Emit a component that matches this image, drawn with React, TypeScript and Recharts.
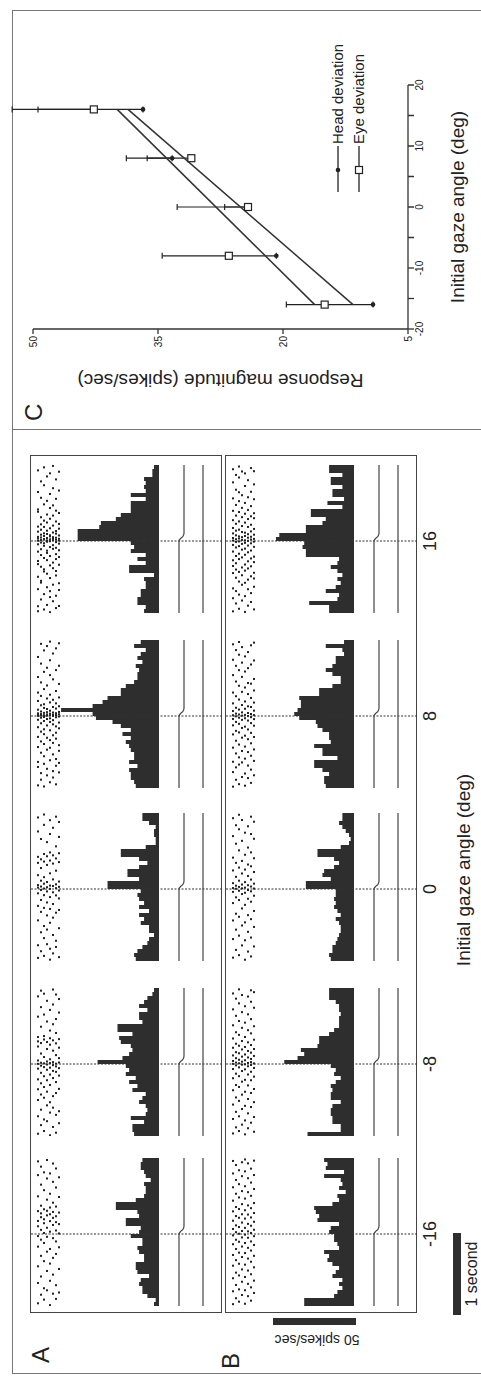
import React from 'react';
import {
  ComposedChart, Bar, Line, Scatter, XAxis, YAxis, ReferenceLine, ErrorBar, Legend, Label,
} from 'recharts';

const FONT = '"Liberation Sans", Arial, Helvetica, sans-serif';
const INK = '#222';
const BAR_FILL = '#2e2e2e';

// ---------- panels A / B : rasters, histograms, eye traces ----------
const gazeLabels = ['-16', '-8', '0', '8', '16'];

// 50 ms bins, aligned on saccade onset (0)
const binTimes = [
  -900, -850, -800, -750, -700, -650, -600, -550, -500, -450, -400, -350, -300, -250, -200, -150, -100, -50,
  0, 50, 100, 150, 200, 250, 300, 350, 400, 450, 500, 550, 600, 650, 700, 750, 800, 850, 900,
];

// firing rate (spikes/sec) per bin, panel A (head deviation)
const histAm16 = [3, 2, 7, 10, 10, 12, 11, 6, 13, 14, 14, 9, 9, 12, 13, 10, 10, 17, 12, 11, 20, 20, 12, 13, 26, 26, 14, 9, 8, 8, 9, 5, 8, 9, 11, 11, 10];
const histAm8 = [15, 16, 16, 9, 17, 8, 7, 8, 12, 10, 8, 16, 13, 18, 14, 20, 18, 20, 37, 22, 18, 16, 17, 23, 24, 16, 25, 25, 10, 12, 12, 7, 12, 9, 7, 4, 3];
const histA0 = [14, 15, 13, 10, 7, 6, 3, 6, 6, 11, 9, 12, 6, 12, 9, 12, 13, 11, 31, 31, 12, 19, 19, 12, 7, 12, 23, 23, 8, 2, 2, 3, 3, 2, 6, 10, 10];
const histA8 = [14, 15, 17, 17, 18, 13, 18, 15, 15, 17, 18, 20, 17, 22, 17, 23, 28, 38, 40, 59, 40, 34, 31, 23, 23, 20, 15, 13, 13, 12, 14, 10, 13, 11, 8, 15, 11];
const histA16 = [9, 8, 13, 13, 11, 11, 8, 8, 9, 3, 18, 18, 8, 13, 8, 17, 15, 17, 49, 49, 49, 36, 35, 26, 23, 17, 17, 17, 8, 17, 8, 9, 8, 9, 4, 4, 3];

// panel B (eye deviation)
const histBm16 = [30, 30, 12, 10, 7, 9, 7, 13, 11, 9, 13, 16, 15, 18, 9, 10, 12, 12, 15, 14, 9, 22, 21, 23, 24, 13, 9, 10, 5, 9, 7, 8, 18, 6, 17, 16, 18];
const histBm8 = [28, 8, 8, 13, 13, 14, 14, 13, 8, 14, 14, 13, 14, 11, 8, 12, 11, 14, 42, 34, 30, 32, 22, 21, 21, 15, 12, 9, 9, 9, 8, 9, 9, 11, 15, 15, 15];
const histB0 = [14, 15, 13, 13, 11, 10, 9, 8, 8, 9, 11, 8, 10, 12, 11, 12, 11, 11, 29, 29, 14, 19, 18, 12, 9, 12, 22, 22, 8, 3, 2, 3, 5, 7, 9, 7, 7];
const histB8 = [17, 18, 18, 15, 19, 24, 24, 10, 19, 19, 24, 14, 15, 15, 19, 22, 23, 33, 36, 34, 32, 32, 33, 21, 21, 13, 8, 8, 13, 17, 13, 11, 11, 6, 7, 17, 6];
const histB16 = [15, 15, 27, 10, 9, 17, 11, 8, 10, 7, 10, 14, 10, 9, 29, 29, 31, 30, 47, 45, 29, 29, 19, 17, 26, 26, 7, 16, 6, 13, 13, 7, 14, 14, 7, 15, 15];

// spike times (ms from saccade onset), one row per trial
const rasterAm16 = [
  [-866, -612, -404, -158, -26, 97, 163, 286, 471, 736, 908],
  [-759, -531, -273, -71, 52, 210, 258, 354, 617, 842],
  [-820, -678, -339, -112, 13, 135, 184, 309, 548, 771],
  [-704, -462, -221, -35, 78, 233, 290, 429, 694, 925],
  [-889, -585, -370, -187, 29, 161, 247, 331, 503, 757],
  [-746, -508, -298, -52, 113, 202, 276, 391, 652, 881],
  [-811, -640, -249, -93, 44, 148, 222, 343, 581, 819],
  [-731, -437, -166, 7, 124, 268, 462, 709],
];
const rasterAm8 = [
  [-872, -653, -450, -316, -192, -58, 2, 44, 219, 283, 337, 592, 845],
  [-764, -571, -381, -241, -110, -21, 15, 131, 262, 466, 711, 917],
  [-838, -693, -422, -288, -153, -39, 8, 87, 306, 349, 618, 879],
  [-715, -517, -346, -203, -72, -6, 31, 188, 275, 531, 790],
  [-891, -607, -478, -262, -132, -46, 11, 59, 241, 322, 418, 676],
  [-787, -546, -402, -176, -86, -14, 23, 167, 296, 497, 744, 931],
  [-859, -636, -363, -226, -98, -30, 4, 111, 258, 388, 562, 868],
  [-740, -590, -311, -145, -52, 19, 73, 204, 311, 643, 812],
];
const rasterA0 = [
  [-861, -703, -392, -211, -54, 18, 49, 173, 327, 402, 719, 894],
  [-778, -541, -286, -137, -12, 31, 104, 262, 371, 625],
  [-836, -614, -463, -236, -77, 6, 66, 148, 343, 438, 802, 931],
  [-690, -507, -330, -168, -30, 22, 87, 301, 409, 586],
  [-883, -747, -422, -249, -101, 2, 43, 196, 356, 457, 688, 860],
  [-805, -575, -358, -188, -41, 37, 120, 318, 421, 765],
  [-724, -647, -296, -80, 11, 58, 229, 382, 533, 904],
  [-852, -490, -262, -118, -19, 27, 93, 336, 447, 651, 838],
];
const rasterA8 = [
  [-867, -637, -574, -388, -261, -140, -47, 2, 14, 33, 79, 188, 293, 487, 738],
  [-796, -714, -459, -318, -195, -91, -21, 7, 24, 56, 134, 251, 420, 655, 902],
  [-881, -598, -503, -350, -227, -166, -63, -12, 10, 39, 101, 147, 336, 552, 820],
  [-742, -660, -421, -272, -118, -38, 4, 19, 48, 87, 219, 382, 603, 874],
  [-828, -553, -397, -302, -179, -74, -29, 9, 29, 66, 170, 266, 511, 697, 930],
  [-769, -689, -480, -336, -241, -104, -52, 1, 17, 43, 112, 203, 458, 781],
  [-854, -622, -538, -283, -209, -130, -16, 12, 35, 93, 158, 313, 574, 846],
  [-705, -586, -435, -365, -154, -82, -6, 22, 51, 122, 232, 401, 628, 909],
];
const rasterA16 = [
  [-878, -815, -602, -447, -289, -250, -133, -41, 4, 31, 52, 117, 180, 366, 394, 612, 883],
  [-731, -520, -498, -322, -176, -102, -19, 13, 44, 79, 141, 208, 297, 540, 745],
  [-856, -664, -381, -354, -212, -60, -28, 18, 25, 63, 96, 176, 255, 458, 697, 921],
  [-799, -578, -409, -239, -149, -121, -9, 8, 38, 88, 129, 231, 331, 502, 807],
  [-890, -701, -627, -463, -305, -188, -76, -3, 21, 57, 71, 159, 278, 412, 588, 846],
  [-753, -546, -340, -270, -98, -52, 11, 34, 48, 106, 193, 318, 445, 660, 939],
  [-838, -684, -431, -375, -226, -164, -85, -14, 16, 41, 92, 124, 244, 379, 527, 770],
  [-812, -612, -528, -297, -201, -116, -33, 6, 28, 69, 154, 213, 350, 631, 866],
];
const rasterBm16 = [
  [-877, -716, -553, -396, -262, -128, -17, 63, 166, 283, 417, 584, 757, 913],
  [-803, -637, -483, -327, -187, -72, 23, 108, 224, 337, 503, 676, 862],
  [-846, -692, -518, -372, -233, -97, 3, 87, 203, 312, 457, 623, 797],
  [-763, -597, -443, -288, -157, -43, 38, 143, 247, 373, 536, 723, 897],
  [-872, -703, -537, -383, -238, -113, -8, 77, 193, 297, 443, 597, 783, 932],
  [-777, -623, -457, -307, -173, -47, 33, 127, 243, 357, 523, 697, 883],
  [-833, -667, -503, -347, -207, -93, 13, 103, 207, 323, 477, 643, 817],
  [-737, -583, -417, -273, -137, -27, 53, 153, 263, 387, 563, 737, 917],
];
const rasterBm8 = [
  [-868, -687, -507, -328, -178, -63, 2, 38, 107, 203, 319, 484, 683, 882],
  [-792, -598, -418, -263, -121, -17, 18, 73, 148, 253, 397, 602, 817],
  [-838, -654, -461, -287, -152, -42, 9, 53, 134, 228, 364, 538, 758, 933],
  [-758, -563, -383, -221, -88, -8, 29, 92, 182, 287, 452, 648, 862],
  [-879, -705, -523, -347, -198, -67, -4, 47, 119, 213, 338, 517, 722],
  [-803, -617, -437, -268, -131, -28, 13, 82, 163, 271, 423, 621, 843],
  [-734, -538, -362, -203, -97, -12, 24, 63, 142, 237, 383, 561, 778, 921],
  [-847, -663, -477, -312, -158, -49, 7, 101, 187, 304, 472, 703, 898],
];
const rasterB0 = [
  [-858, -626, -393, -176, -36, 12, 73, 232, 392, 661, 885],
  [-761, -508, -309, -104, 3, 41, 152, 327, 566, 797],
  [-827, -583, -347, -138, -22, 26, 104, 268, 483, 747, 928],
  [-705, -456, -243, -63, 8, 56, 194, 351, 602, 863],
  [-884, -641, -417, -198, -47, 17, 86, 243, 428, 704],
  [-782, -535, -327, -122, -13, 47, 163, 306, 518, 784],
  [-843, -607, -377, -159, -29, 31, 118, 284, 458, 687, 904],
  [-718, -474, -274, -84, 6, 67, 212, 384, 628, 841],
];
const rasterB8 = [
  [-883, -701, -572, -396, -230, -117, -37, 9, 62, 158, 293, 511, 703, 896],
  [-797, -642, -468, -309, -186, -74, -4, 30, 103, 247, 431, 627, 824],
  [-852, -607, -517, -357, -205, -98, -21, 19, 81, 206, 378, 573, 766, 925],
  [-763, -580, -437, -271, -149, -48, 4, 45, 137, 302, 489, 667, 861],
  [-871, -719, -533, -382, -246, -133, -28, 14, 90, 182, 356, 556, 745],
  [-776, -619, -451, -290, -168, -57, -1, 38, 121, 274, 412, 598, 799],
  [-836, -670, -497, -341, -211, -89, -14, 25, 113, 226, 404, 644, 884],
  [-741, -561, -418, -262, -121, -39, 11, 67, 168, 319, 463, 694, 917],
];
const rasterB16 = [
  [-879, -715, -592, -401, -312, -241, -132, -49, 6, 38, 95, 163, 260, 377, 533, 733, 897],
  [-781, -626, -459, -357, -278, -187, -81, -12, 22, 71, 129, 215, 318, 451, 641, 826],
  [-847, -670, -507, -386, -226, -159, -64, -5, 31, 57, 142, 245, 362, 498, 609, 794, 931],
  [-744, -547, -428, -331, -205, -108, -36, 14, 48, 112, 187, 298, 414, 572, 869],
  [-886, -689, -522, -370, -294, -172, -95, -23, 9, 63, 104, 230, 341, 476, 688, 845],
  [-808, -603, -483, -343, -254, -141, -57, 2, 41, 85, 176, 274, 389, 547, 760],
  [-762, -651, -441, -316, -218, -119, -29, 18, 53, 120, 203, 309, 436, 615, 912],
  [-855, -572, -468, -397, -264, -196, -73, -8, 26, 79, 151, 285, 347, 522, 708, 872],
];

// eye position traces (deg, relative): horizontal steps with the saccade, vertical stays flat
const traceTimes = [-900, 0, 30, 60, 100, 950];
const eyeHPos = [0, 0, -0.6, -1.6, -2, -2];
const eyeVPos = [0, 0, 0, 0, 0, 0];

// ---------- panel C : response magnitude vs initial gaze ----------
const gazeC = [-16, -8, 0, 8, 16];
const headMag = [9.2, 20.8, 24, 33.3, 36.8];
const headErr = [5.8, 5.7, 3, 3, 12.6];
const eyeMag = [15, 26.5, 24.2, 31, 42.7];
const eyeErr = [4.6, 8, 8.5, 7.8, 9.8];
const fitGaze = [-16, 16];
const headFit = [11.6, 38.6];
const eyeFit = [16.2, 39.9];
const gazeTicks = [-20, -15, -10, -5, 0, 5, 10, 15, 20];
const magTicks = [5, 20, 35, 50];

// ---------- layout (landscape figure, rotated onto the page) ----------
const eventX = [142, 312, 487, 660, 835];
const CELL_W = 148;
const CELL_H = 192;
const PRE_PX = 72;
const RATE_BASE = 129; // px from cell top to histogram baseline
const RATE_PX = 83 / 50; // 50 spikes/sec scale bar = 83 px
const rateDomain = [-(CELL_H - RATE_BASE) / RATE_PX, RATE_BASE / RATE_PX];
const trialDomain = [1 - 8 / 3, 1 - 8 / 3 + CELL_H / 3];
const eyeHDomain = [149 / 2.5 - CELL_H / 2.5, 149 / 2.5];
const eyeVDomain = [173 / 2.5 - CELL_H / 2.5, 173 / 2.5];

const eyeHTrace = traceTimes.map((t, i) => ({ t, v: eyeHPos[i] }));
const eyeVTrace = traceTimes.map((t, i) => ({ t, v: eyeVPos[i] }));

const SpikeDot = (p: any) => (
  <rect x={p.cx - 1} y={p.cy - 1} width={2} height={2} fill={INK} />
);

function RasterCell({ hist, raster, left, top }: { hist: number[]; raster: number[][]; left: number; top: number }) {
  const histData = binTimes.map((t, i) => ({ t, v: hist[i] }));
  const spikes = raster.flatMap((row, i) => row.map((t) => ({ t, trial: i + 1 })));
  return (
    <div style={{ position: 'absolute', left, top }}>
      <ComposedChart
        width={CELL_W}
        height={CELL_H}
        data={histData}
        margin={{ top: 0, right: 0, bottom: 0, left: 0 }}
        barCategoryGap={0}
        barGap={0}
      >
        <XAxis xAxisId="bin" dataKey="t" type="category" hide />
        <XAxis xAxisId="t" dataKey="t" type="number" domain={[-900, 950]} allowDataOverflow hide />
        <YAxis yAxisId="rate" type="number" domain={rateDomain} allowDataOverflow hide />
        <YAxis yAxisId="trial" dataKey="trial" type="number" domain={trialDomain} reversed allowDataOverflow hide />
        <YAxis yAxisId="eyeH" type="number" domain={eyeHDomain} allowDataOverflow hide />
        <YAxis yAxisId="eyeV" type="number" domain={eyeVDomain} allowDataOverflow hide />
        <ReferenceLine xAxisId="t" yAxisId="rate" x={0} stroke="#333" strokeDasharray="2 1.5" strokeWidth={1} />
        <Bar xAxisId="bin" yAxisId="rate" dataKey="v" fill={BAR_FILL} isAnimationActive={false} />
        <Scatter xAxisId="t" yAxisId="trial" data={spikes} dataKey="trial" shape={SpikeDot} isAnimationActive={false} />
        <Line xAxisId="t" yAxisId="eyeH" data={eyeHTrace} dataKey="v" type="monotone" stroke="#444" strokeWidth={1.2} dot={false} isAnimationActive={false} />
        <Line xAxisId="t" yAxisId="eyeV" data={eyeVTrace} dataKey="v" type="linear" stroke="#444" strokeWidth={1.2} dot={false} isAnimationActive={false} />
      </ComposedChart>
    </div>
  );
}

const rowA = [
  { hist: histAm16, raster: rasterAm16 },
  { hist: histAm8, raster: rasterAm8 },
  { hist: histA0, raster: rasterA0 },
  { hist: histA8, raster: rasterA8 },
  { hist: histA16, raster: rasterA16 },
];
const rowB = [
  { hist: histBm16, raster: rasterBm16 },
  { hist: histBm8, raster: rasterBm8 },
  { hist: histB0, raster: rasterB0 },
  { hist: histB8, raster: rasterB8 },
  { hist: histB16, raster: rasterB16 },
];

const headPts = gazeC.map((g, i) => ({ g, m: headMag[i], e: [0, headErr[i]] }));
const eyePts = gazeC.map((g, i) => ({ g, m: eyeMag[i], e: [0, eyeErr[i]] }));
const headLine = fitGaze.map((g, i) => ({ g, m: headFit[i] }));
const eyeLine = fitGaze.map((g, i) => ({ g, m: eyeFit[i] }));

const HeadDot = (p: any) => <circle cx={p.cx} cy={p.cy} r={2.3} fill={INK} />;
const EyeSquare = (p: any) => (
  <rect x={p.cx - 3.5} y={p.cy - 3.5} width={7} height={7} fill="#fff" stroke={INK} strokeWidth={1.2} />
);

const legendItems = [
  { name: 'Head deviation', marker: 'dot' },
  { name: 'Eye deviation', marker: 'square' },
];

const renderLegend = () => (
  <div style={{ fontFamily: FONT, fontSize: 15, color: INK }}>
    {legendItems.map((item) => (
      <div key={item.name} style={{ display: 'flex', alignItems: 'center', height: 21 }}>
        <svg width={46} height={12}>
          <line x1={0} y1={6} x2={46} y2={6} stroke={INK} strokeWidth={1.3} />
          {item.marker === 'dot' ? (
            <circle cx={22} cy={6} r={2.3} fill={INK} />
          ) : (
            <rect x={18.5} y={2.5} width={7} height={7} fill="#fff" stroke={INK} strokeWidth={1.2} />
          )}
        </svg>
        <span style={{ marginLeft: 2, whiteSpace: 'nowrap' }}>{item.name}</span>
      </div>
    ))}
  </div>
);

const tickStyle = { fontSize: 10, fill: INK, fontFamily: FONT };

function PanelC() {
  return (
    <>
      {/* error bars layer (domain reaches past 50 so the top bar is not cut) */}
      <div style={{ position: 'absolute', left: 970, top: 0 }}>
        <ComposedChart width={340} height={418} margin={{ top: 8, right: 19, bottom: 10, left: 77 }}>
          <XAxis dataKey="g" type="number" domain={[-20, 20]} allowDataOverflow hide />
          <YAxis type="number" domain={[5, 53]} allowDataOverflow hide />
          <Scatter data={headPts} dataKey="m" shape={() => <g />} isAnimationActive={false}>
            <ErrorBar dataKey="e" direction="y" width={3} stroke={INK} strokeWidth={1.2} />
          </Scatter>
          <Scatter data={eyePts} dataKey="m" shape={() => <g />} isAnimationActive={false}>
            <ErrorBar dataKey="e" direction="y" width={3} stroke={INK} strokeWidth={1.2} />
          </Scatter>
        </ComposedChart>
      </div>
      <div style={{ position: 'absolute', left: 970, top: 20 }}>
        <ComposedChart width={340} height={460} margin={{ top: 13, right: 19, bottom: 10, left: 0 }}>
          <XAxis
            dataKey="g"
            type="number"
            domain={[-20, 20]}
            ticks={gazeTicks}
            interval={0}
            tickFormatter={(v: number) => (v % 10 === 0 ? String(v) : '')}
            height={62}
            tickSize={6}
            tick={tickStyle}
            stroke="#333"
            strokeWidth={1.3}
          >
            <Label
              value="Initial gaze angle (deg)"
              position="insideBottom"
              offset={6}
              style={{ fontSize: 19, fill: INK, fontFamily: FONT }}
            />
          </XAxis>
          <YAxis
            type="number"
            domain={[5, 50]}
            ticks={magTicks}
            interval={0}
            width={77}
            tickSize={5}
            tick={tickStyle}
            stroke="#333"
            strokeWidth={1.3}
          >
            <Label
              value="Response magnitude (spikes/sec)"
              angle={-90}
              position="insideLeft"
              offset={25}
              style={{ textAnchor: 'middle', fontSize: 19, fill: INK, fontFamily: FONT }}
            />
          </YAxis>
          <Line data={headLine} dataKey="m" type="linear" stroke="#333" strokeWidth={1.5} dot={false} isAnimationActive={false} />
          <Line data={eyeLine} dataKey="m" type="linear" stroke="#333" strokeWidth={1.5} dot={false} isAnimationActive={false} />
          <Scatter data={headPts} dataKey="m" shape={HeadDot} isAnimationActive={false} />
          <Scatter data={eyePts} dataKey="m" shape={EyeSquare} isAnimationActive={false} />
          <Legend
            content={renderLegend}
            layout="vertical"
            align="center"
            verticalAlign="middle"
            wrapperStyle={{ left: 214, top: 307, width: 170 }}
          />
        </ComposedChart>
      </div>
    </>
  );
}

const textBase: React.CSSProperties = { position: 'absolute', fontFamily: FONT, color: INK, lineHeight: 1, whiteSpace: 'nowrap' };

export default function App() {
  return (
    <div style={{ position: 'absolute', left: 0, top: 0, width: 481, height: 1376, overflow: 'hidden', background: '#fff' }}>
      <div
        style={{
          position: 'absolute',
          left: 0,
          top: 0,
          width: 1376,
          height: 481,
          transformOrigin: '0 0',
          transform: 'translate(0px, 1376px) rotate(-90deg)',
          fontFamily: FONT,
        }}
      >
        {/* outer frame and divider */}
        <div style={{ position: 'absolute', left: 2, top: 12, width: 1362, height: 475, borderTop: '1px solid #777', borderLeft: '1px solid #777', borderRight: '1px solid #777' }} />
        <div style={{ position: 'absolute', left: 946, top: 12, width: 1, height: 475, background: '#777' }} />

        {/* boxes A and B */}
        <div style={{ position: 'absolute', left: 63, top: 30, width: 858, height: 192, border: '1.5px solid #444', boxSizing: 'border-box' }} />
        <div style={{ position: 'absolute', left: 63, top: 225, width: 858, height: 192, border: '1.5px solid #444', boxSizing: 'border-box' }} />

        {rowA.map((c, i) => (
          <RasterCell key={`a${i}`} hist={c.hist} raster={c.raster} left={eventX[i] - PRE_PX} top={30} />
        ))}
        {rowB.map((c, i) => (
          <RasterCell key={`b${i}`} hist={c.hist} raster={c.raster} left={eventX[i] - PRE_PX} top={225} />
        ))}

        {gazeLabels.map((g, i) => (
          <div key={g} style={{ ...textBase, left: eventX[i] - 30, top: 421, width: 60, textAlign: 'center', fontSize: 18 }}>
            {g}
          </div>
        ))}
        <div style={{ ...textBase, left: 406, top: 454, width: 200, textAlign: 'center', fontSize: 19 }}>
          Initial gaze angle (deg)
        </div>

        {/* panel letters */}
        <div style={{ ...textBase, left: 13, top: 29, fontSize: 24 }}>A</div>
        <div style={{ ...textBase, left: 7, top: 219, fontSize: 24 }}>B</div>
        <div style={{ ...textBase, left: 955, top: 22, fontSize: 24 }}>C</div>

        {/* scale bars */}
        <div style={{ position: 'absolute', left: 51, top: 273, width: 7, height: 83, background: BAR_FILL }} />
        <div
          style={{
            ...textBase,
            left: 36 - 50,
            top: 318 - 8,
            width: 100,
            textAlign: 'center',
            fontSize: 14,
            transform: 'rotate(-90deg)',
            transformOrigin: '50% 50%',
          }}
        >
          50 spikes/sec
        </div>
        <div style={{ position: 'absolute', left: 61, top: 453, width: 82, height: 8, background: BAR_FILL }} />
        <div style={{ ...textBase, left: 52, top: 464, width: 100, textAlign: 'center', fontSize: 16 }}>1 second</div>

        <PanelC />
      </div>
    </div>
  );
}
